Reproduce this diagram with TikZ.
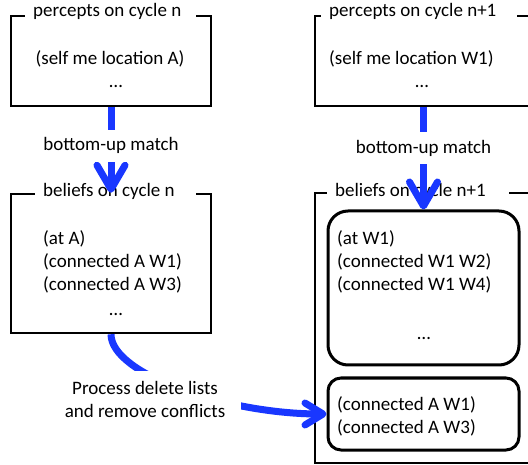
\documentclass[tikz,border=0pt]{standalone}
\usepackage{fontspec}
\setmainfont{Carlito}
\usetikzlibrary{arrows.meta}
\definecolor{flowblue}{RGB}{25,55,255}
\begin{document}
\begin{tikzpicture}[x=1pt,y=-1pt,
  frame/.style={draw=black, line width=2.5pt, inner sep=0pt},
  rbox/.style={draw=black, line width=3pt, inner sep=0pt},
  txt/.style={inner sep=0pt, font=\fontsize{19}{23}\selectfont},
  ttl/.style={txt, fill=white, inner xsep=8pt, inner ysep=4pt},
  lab/.style={txt, fill=white, inner xsep=4pt, inner ysep=8pt},
  lab2/.style={txt, fill=white, align=center, inner xsep=16pt, inner ysep=10pt},
  flow/.style={draw=flowblue, line width=7pt, -{Straight Barb[length=24pt,width=28pt,round]}},
  flowsmall/.style={draw=flowblue, line width=7pt, -{Straight Barb[length=18pt,width=22pt,round]}}]
\useasboundingbox (0,0) rectangle (528,465);
\clip (0,0) rectangle (528,465);
% frames
\node[frame, minimum width=200pt, minimum height=90pt] (lp) at (111,61) {};
\node[frame, minimum width=200pt, minimum height=139pt] (lb) at (111,263.5) {};
\node[frame, minimum width=230pt, minimum height=90pt] (rp) at (430,61) {};
\node[frame, line width=2pt, minimum width=230pt, minimum height=270pt] (rb) at (430,328) {};
\node[rbox, rounded corners=20pt, minimum width=191pt, minimum height=154pt] (rb1) at (423.5,288) {};
\node[rbox, rounded corners=13pt, minimum width=191pt, minimum height=72pt] (rb2) at (423.5,414) {};
% titles
\node[ttl, anchor=base west] (tlp) at (25,17) {percepts on cycle n\kern7pt};
\node[ttl, anchor=base west] (tlb) at (35,197) {beliefs on cycle n\kern13pt};
\node[ttl, anchor=base west] (trp) at (321,17) {percepts on cycle n+1\kern13pt};
\node[ttl, anchor=base west] (trb) at (327,197) {beliefs on cycle n+1\kern15pt};
% left texts
\node[txt, anchor=base] (lp1) at (110,65) {(self me location A)};
\node[txt, anchor=base] (lp2) at (116,88) {…};
\node[txt, anchor=base west] (lb1) at (43,245) {(at A)};
\node[txt, anchor=base west] (lb2) at (43,268) {(connected A W1)};
\node[txt, anchor=base west] (lb3) at (43,291) {(connected A W3)};
\node[txt, anchor=base] (lb4) at (116,316) {…};
% right texts
\node[txt, anchor=base west] (rp1) at (329,65) {(self me location W1)};
\node[txt, anchor=base] (rp2) at (422,88) {…};
\node[txt, anchor=base west] (r11) at (337,245) {(at W1)};
\node[txt, anchor=base west] (r12) at (337,268) {(connected W1 W2)};
\node[txt, anchor=base west] (r13) at (337,291) {(connected W1 W4)};
\node[txt, anchor=base] (r14) at (424,340) {…};
\node[txt, anchor=base west] (r21) at (337,410) {(connected A W1)};
\node[txt, anchor=base west] (r22) at (337,433) {(connected A W3)};
% connectors
\draw[flow] (lp.south) -- node[lab, pos=0.45] (m1) {bottom-up match} (lb.north);
\draw[flow] (rp.south -| rb1.north) -- node[lab, pos=0.4] (m2) {bottom-up match} (rb1.north);
\draw[flowsmall] (lb.south) .. controls +(0,40) and +(-100,0) .. (rb2.west);
\node[lab2] (m3) at (145,399.5) {Process delete lists\\and remove conflicts};
\end{tikzpicture}
\end{document}
